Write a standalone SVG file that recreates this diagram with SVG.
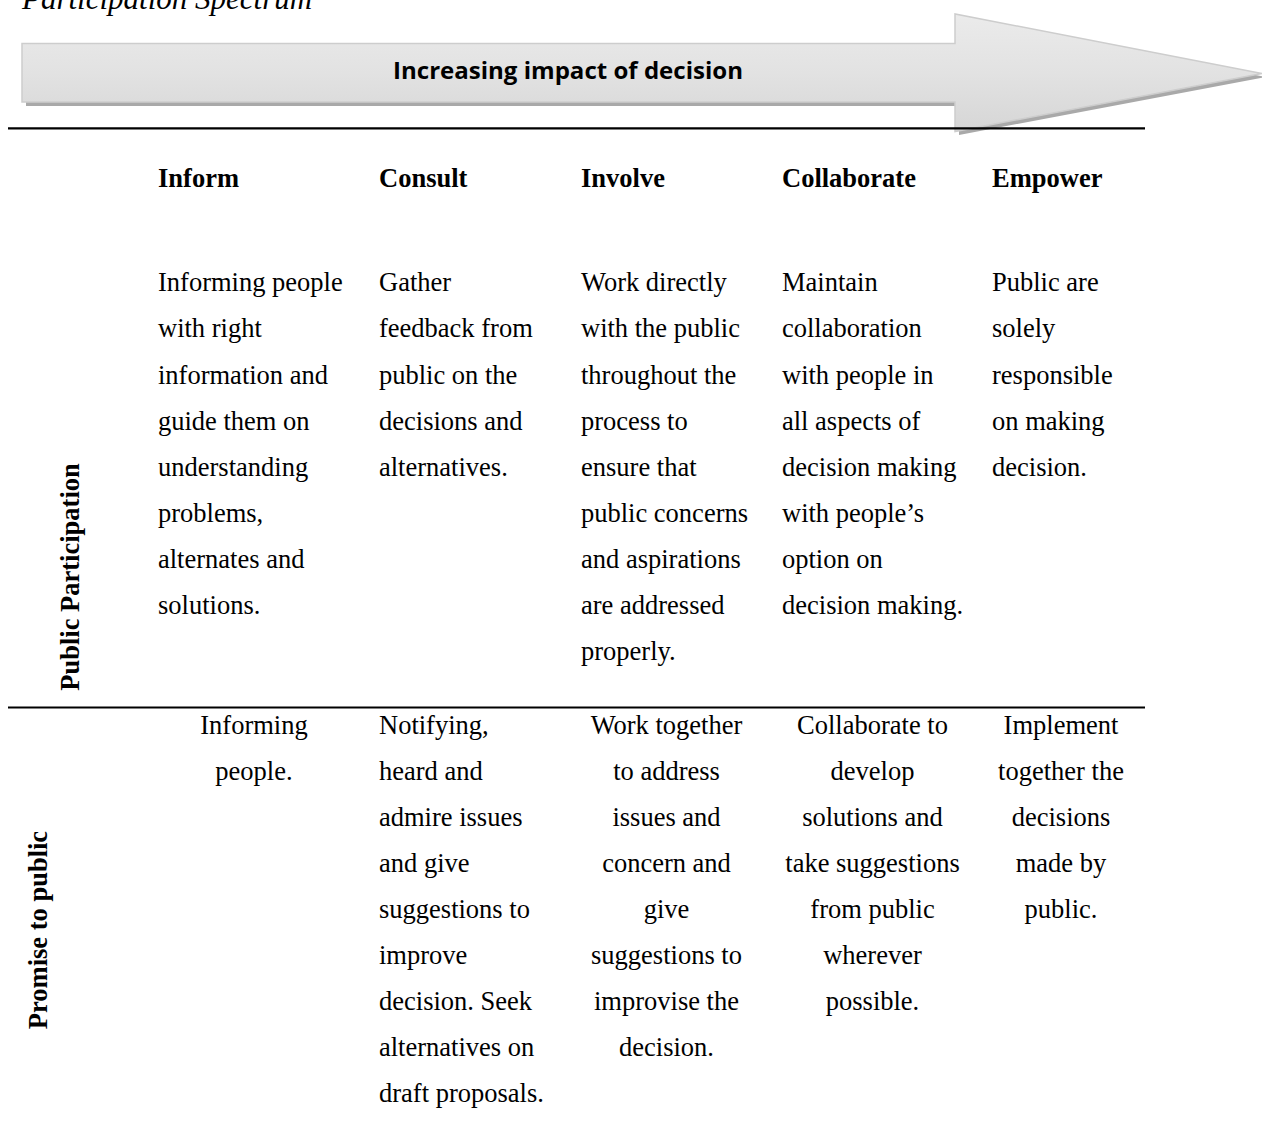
<svg xmlns="http://www.w3.org/2000/svg" width="1262" height="1140" viewBox="0 0 1262 1140">
<defs>
<linearGradient id="ag" x1="0" y1="0" x2="0" y2="1">
<stop offset="0" stop-color="#ebebeb"/>
<stop offset="0.5" stop-color="#e2e2e2"/>
<stop offset="1" stop-color="#d6d6d6"/>
</linearGradient>
<style>
.t{font-family:"Liberation Serif","Times New Roman",serif;font-size:26.5px;fill:#000}
.b{font-weight:bold}
.c{text-anchor:middle}
.rule{stroke:#000;stroke-width:2.2;fill:none}
</style>
</defs>
<rect width="1262" height="1140" fill="#fff"/>
<text x="22" y="9" font-family="Liberation Serif, serif" font-style="italic" font-size="31" fill="#000">Participation Spectrum</text>
<g id="arrow">
<polygon points="26,47 959,47 959,18 1266,77 959,135 959,106 26,106" fill="#a9a9a9"/>
<polygon points="22,43.5 955,43.5 955,14 1262,73.5 955,131.5 955,102 22,102" fill="url(#ag)" stroke="#cdcdcd" stroke-width="1.5"/>
<text x="568" y="79" text-anchor="middle" font-family="Open Sans, Liberation Sans, sans-serif" font-weight="bold" font-size="24" textLength="350" lengthAdjust="spacingAndGlyphs" fill="#000">Increasing impact of decision</text>
</g>
<g id="rules">
<line class="rule" x1="8" y1="128.3" x2="1145" y2="128.3"/>
<line class="rule" x1="8" y1="707.5" x2="1145" y2="707.5"/>
</g>
<g id="row-labels">
<text class="t b c" transform="translate(78.5,577) rotate(-90)">Public Participation</text>
<text class="t b c" transform="translate(47,930) rotate(-90)">Promise to public</text>
</g>
<g id="headers">
<text class="t b" x="158" y="187">Inform</text>
<text class="t b" x="379" y="187">Consult</text>
<text class="t b" x="581" y="187">Involve</text>
<text class="t b" x="782" y="187">Collaborate</text>
<text class="t b" x="992" y="187">Empower</text>
</g>
<g id="participation-inform">
<text class="t" x="158" y="291.3">Informing people</text>
<text class="t" x="158" y="337.4">with right</text>
<text class="t" x="158" y="383.5">information and</text>
<text class="t" x="158" y="429.6">guide them on</text>
<text class="t" x="158" y="475.7">understanding</text>
<text class="t" x="158" y="521.8">problems,</text>
<text class="t" x="158" y="567.9">alternates and</text>
<text class="t" x="158" y="614">solutions.</text>
</g>
<g id="participation-consult">
<text class="t" x="379" y="291.3">Gather</text>
<text class="t" x="379" y="337.4">feedback from</text>
<text class="t" x="379" y="383.5">public on the</text>
<text class="t" x="379" y="429.6">decisions and</text>
<text class="t" x="379" y="475.7">alternatives.</text>
</g>
<g id="participation-involve">
<text class="t" x="581" y="291.3">Work directly</text>
<text class="t" x="581" y="337.4">with the public</text>
<text class="t" x="581" y="383.5">throughout the</text>
<text class="t" x="581" y="429.6">process to</text>
<text class="t" x="581" y="475.7">ensure that</text>
<text class="t" x="581" y="521.8">public concerns</text>
<text class="t" x="581" y="567.9">and aspirations</text>
<text class="t" x="581" y="614">are addressed</text>
<text class="t" x="581" y="660.1">properly.</text>
</g>
<g id="participation-collaborate">
<text class="t" x="782" y="291.3">Maintain</text>
<text class="t" x="782" y="337.4">collaboration</text>
<text class="t" x="782" y="383.5">with people in</text>
<text class="t" x="782" y="429.6">all aspects of</text>
<text class="t" x="782" y="475.7">decision making</text>
<text class="t" x="782" y="521.8">with people’s</text>
<text class="t" x="782" y="567.9">option on</text>
<text class="t" x="782" y="614">decision making.</text>
</g>
<g id="participation-empower">
<text class="t" x="992" y="291.3">Public are</text>
<text class="t" x="992" y="337.4">solely</text>
<text class="t" x="992" y="383.5">responsible</text>
<text class="t" x="992" y="429.6">on making</text>
<text class="t" x="992" y="475.7">decision.</text>
</g>
<g id="promise-inform">
<text class="t c" x="254" y="734">Informing</text>
<text class="t c" x="254" y="780">people.</text>
</g>
<g id="promise-consult">
<text class="t" x="379" y="734">Notifying,</text>
<text class="t" x="379" y="780">heard and</text>
<text class="t" x="379" y="826">admire issues</text>
<text class="t" x="379" y="872">and give</text>
<text class="t" x="379" y="918">suggestions to</text>
<text class="t" x="379" y="964">improve</text>
<text class="t" x="379" y="1010">decision. Seek</text>
<text class="t" x="379" y="1056">alternatives on</text>
<text class="t" x="379" y="1102">draft proposals.</text>
</g>
<g id="promise-involve">
<text class="t c" x="666.5" y="734">Work together</text>
<text class="t c" x="666.5" y="780">to address</text>
<text class="t c" x="666.5" y="826">issues and</text>
<text class="t c" x="666.5" y="872">concern and</text>
<text class="t c" x="666.5" y="918">give</text>
<text class="t c" x="666.5" y="964">suggestions to</text>
<text class="t c" x="666.5" y="1010">improvise the</text>
<text class="t c" x="666.5" y="1056">decision.</text>
</g>
<g id="promise-collaborate">
<text class="t c" x="872.5" y="734">Collaborate to</text>
<text class="t c" x="872.5" y="780">develop</text>
<text class="t c" x="872.5" y="826">solutions and</text>
<text class="t c" x="872.5" y="872">take suggestions</text>
<text class="t c" x="872.5" y="918">from public</text>
<text class="t c" x="872.5" y="964">wherever</text>
<text class="t c" x="872.5" y="1010">possible.</text>
</g>
<g id="promise-empower">
<text class="t c" x="1061" y="734">Implement</text>
<text class="t c" x="1061" y="780">together the</text>
<text class="t c" x="1061" y="826">decisions</text>
<text class="t c" x="1061" y="872">made by</text>
<text class="t c" x="1061" y="918">public.</text>
</g>
</svg>
